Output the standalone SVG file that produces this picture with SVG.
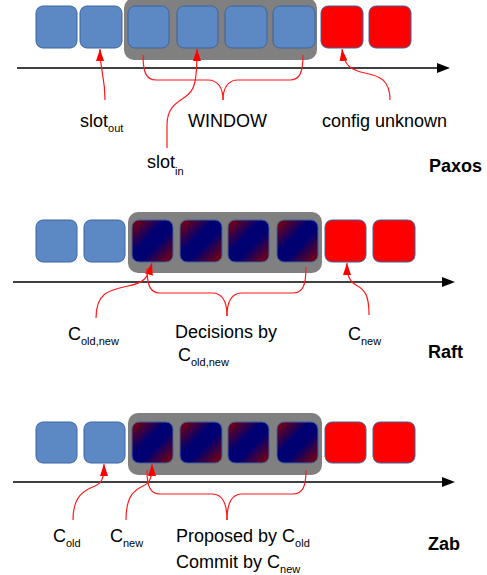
<svg xmlns="http://www.w3.org/2000/svg" width="487" height="575" viewBox="0 0 487 575">
<style>
.bg{fill:#ffffff}
.win{fill:#808080}
.blue{fill:#5c89c4;stroke:#3d65a0;stroke-width:1}
.red{fill:#ff0000;stroke:#3d65a0;stroke-width:1}
.mix{fill:url(#mixg);stroke:#3d65a0;stroke-width:1}
.axis{stroke:#000000;stroke-width:1.3;fill:none}
.head{fill:#000000}
.ptr{stroke:#ff1a1a;stroke-width:1.2;fill:none}
.ptrA{stroke:#ff1a1a;stroke-width:1.2;fill:none;marker-end:url(#ah)}
text{font-family:"Liberation Sans",Arial,sans-serif;font-size:18px;fill:#000000}
.sub{font-size:11px}
.title{font-weight:bold}
</style>
<defs>
<linearGradient id="mixg" x1="0" y1="0" x2="1" y2="1">
<stop offset="0" stop-color="#8a0000"/>
<stop offset="0.4" stop-color="#000072"/>
<stop offset="0.6" stop-color="#000072"/>
<stop offset="1" stop-color="#8a0000"/>
</linearGradient>
<marker id="ah" viewBox="0 0 12 8" markerWidth="12" markerHeight="8" refX="12" refY="4" orient="auto" markerUnits="userSpaceOnUse">
<path d="M0,0 L12,4 L0,8 z" fill="#ff0000"/>
</marker>
</defs>
<rect class="bg" x="0" y="0" width="487" height="575"/>

<!-- Paxos -->
<g id="paxos-window"><rect class="win" x="124" y="-2" width="193" height="62" rx="10"/></g>
<g id="paxos-box1"><rect class="blue" x="36" y="6" width="41" height="42" rx="7"/></g>
<g id="paxos-box2"><rect class="blue" x="80" y="6" width="42" height="42" rx="7"/></g>
<g id="paxos-box3"><rect class="blue" x="128" y="6" width="41" height="42" rx="7"/></g>
<g id="paxos-box4"><rect class="blue" x="177" y="6" width="41" height="42" rx="7"/></g>
<g id="paxos-box5"><rect class="blue" x="225" y="6" width="42" height="42" rx="7"/></g>
<g id="paxos-box6"><rect class="blue" x="273" y="6" width="42" height="42" rx="7"/></g>
<g id="paxos-box7"><rect class="red" x="321" y="6" width="42" height="42" rx="7"/></g>
<g id="paxos-box8"><rect class="red" x="369" y="6" width="42" height="42" rx="7"/></g>
<g id="paxos-axis"><line class="axis" x1="17" y1="68" x2="440" y2="68"/><polygon class="head" points="437,63 450,68 437,73"/></g>
<g id="paxos-slotout"><text x="80" y="127">slot<tspan class="sub" dy="5">out</tspan></text></g>
<g id="paxos-slotin"><text x="147" y="168">slot<tspan class="sub" dy="7">in</tspan></text></g>
<g id="paxos-windowlabel"><text x="188" y="127">WINDOW</text></g>
<g id="paxos-config"><text x="322" y="127">config unknown</text></g>
<g id="paxos-title"><text class="title" x="429" y="172">Paxos</text></g>

<!-- Raft -->
<g id="raft-window"><rect class="win" x="128" y="212" width="194" height="61" rx="10"/></g>
<g id="raft-box1"><rect class="blue" x="36" y="220" width="41" height="42" rx="7"/></g>
<g id="raft-box2"><rect class="blue" x="84" y="220" width="41" height="42" rx="7"/></g>
<g id="raft-box3"><rect class="mix" x="132" y="220" width="41" height="42" rx="7"/></g>
<g id="raft-box4"><rect class="mix" x="180" y="220" width="42" height="42" rx="7"/></g>
<g id="raft-box5"><rect class="mix" x="228" y="220" width="41" height="42" rx="7"/></g>
<g id="raft-box6"><rect class="mix" x="277" y="220" width="41" height="42" rx="7"/></g>
<g id="raft-box7"><rect class="red" x="325" y="220" width="41" height="42" rx="7"/></g>
<g id="raft-box8"><rect class="red" x="373" y="220" width="42" height="42" rx="7"/></g>
<g id="raft-axis"><line class="axis" x1="13" y1="282" x2="445" y2="282"/><polygon class="head" points="442,277 455,282 442,287"/></g>
<g id="raft-coldnew"><text x="68" y="340">C<tspan class="sub" dy="5">old,new</tspan></text></g>
<g id="raft-decisions"><text x="175" y="338">Decisions by</text><text x="178" y="361">C<tspan class="sub" dy="5">old,new</tspan></text></g>
<g id="raft-cnew"><text x="348" y="340">C<tspan class="sub" dy="5">new</tspan></text></g>
<g id="raft-title"><text class="title" x="428" y="358">Raft</text></g>

<!-- Zab -->
<g id="zab-window"><rect class="win" x="128" y="413" width="194" height="62" rx="10"/></g>
<g id="zab-box1"><rect class="blue" x="36" y="422" width="41" height="41" rx="7"/></g>
<g id="zab-box2"><rect class="blue" x="84" y="422" width="41" height="41" rx="7"/></g>
<g id="zab-box3"><rect class="mix" x="132" y="422" width="41" height="41" rx="7"/></g>
<g id="zab-box4"><rect class="mix" x="180" y="422" width="42" height="41" rx="7"/></g>
<g id="zab-box5"><rect class="mix" x="228" y="422" width="41" height="41" rx="7"/></g>
<g id="zab-box6"><rect class="mix" x="277" y="422" width="41" height="41" rx="7"/></g>
<g id="zab-box7"><rect class="red" x="325" y="422" width="41" height="41" rx="7"/></g>
<g id="zab-box8"><rect class="red" x="373" y="422" width="42" height="41" rx="7"/></g>
<g id="zab-axis"><line class="axis" x1="13" y1="482" x2="445" y2="482"/><polygon class="head" points="442,477 455,482 442,487"/></g>
<g id="zab-cold"><text x="53" y="542">C<tspan class="sub" dy="5">old</tspan></text></g>
<g id="zab-cnew"><text x="110" y="542">C<tspan class="sub" dy="5">new</tspan></text></g>
<g id="zab-proposed"><text x="176" y="542">Proposed by C<tspan class="sub" dy="5">old</tspan></text><text x="176" y="568">Commit by C<tspan class="sub" dy="5">new</tspan></text></g>
<g id="zab-title"><text class="title" x="428" y="550">Zab</text></g>

<!-- connectors -->
<g id="connectors">
<path class="ptrA" d="M105,100 C105,75 100,72 100,49"/>
<path class="ptrA" d="M167,148 L167,125 C167,108 176,103 185,97 C194,91 197,85 197,49"/>
<path class="ptr" d="M143,55 C143,72 146,80 156,80 L208,80 C218,80 223,88 223,100"/>
<path class="ptr" d="M303,55 C303,72 300,80 290,80 L238,80 C228,80 223,88 223,100"/>
<path class="ptrA" d="M390,100 C390,80 380,76 365,73 C350,70 344,65 342,49"/>

<path class="ptrA" d="M96,318 C96,292 110,290 128,286 C144,283 148,278 152,263"/>
<path class="ptr" d="M147,268 C147,285 150,293 160,293 L212,293 C222,293 227,300 227,316"/>
<path class="ptr" d="M306,267 C306,285 303,293 293,293 L242,293 C232,293 227,300 227,316"/>
<path class="ptrA" d="M369,315 C369,295 365,290 356,285 C349,281 347,275 347,263"/>

<path class="ptrA" d="M73,520 C73,495 85,490 95,486 C102,483 104,478 104,464"/>
<path class="ptrA" d="M126,520 C126,495 135,490 143,486 C150,483 152,478 152,464"/>
<path class="ptr" d="M147,470 C147,486 150,494 160,494 L212,494 C222,494 227,502 227,520"/>
<path class="ptr" d="M306,470 C306,486 303,494 293,494 L242,494 C232,494 227,502 227,520"/>
</g>
</svg>
